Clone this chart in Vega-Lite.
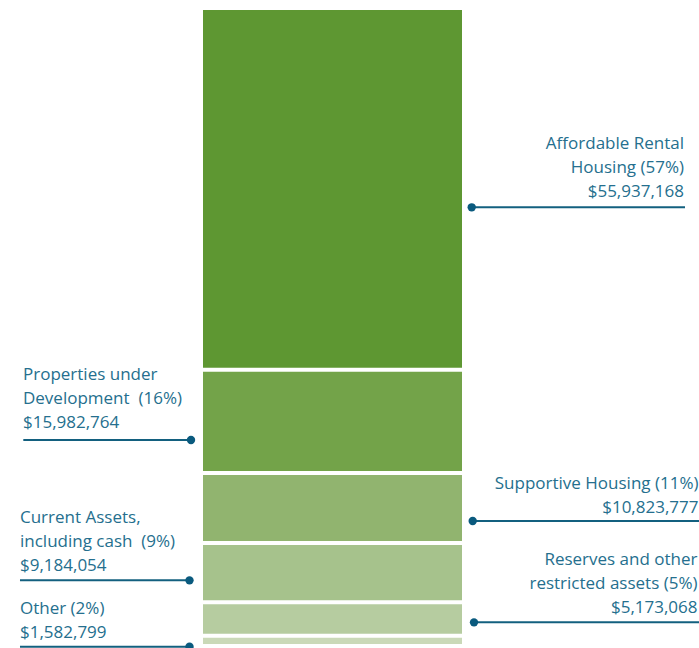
{
  "$schema": "https://vega.github.io/schema/vega-lite/v6.json",
  "width": 699,
  "height": 638,
  "autosize": "none",
  "padding": {"top": 8, "left": 0, "right": 0, "bottom": 2},
  "background": "white",
  "config": {"view": {"stroke": null}},
  "data": {
    "values": [
      {"category": "Affordable Rental Housing", "rank": 1, "value": 55937168, "label": "Affordable Rental\nHousing (57%)\n$55,937,168"},
      {"category": "Properties under Development", "rank": 2, "value": 15982764, "label": "Properties under\nDevelopment\u00a0 (16%)\n$15,982,764"},
      {"category": "Supportive Housing", "rank": 3, "value": 10823777, "label": "Supportive Housing (11%)\n$10,823,777"},
      {"category": "Current Assets, including cash", "rank": 4, "value": 9184054, "label": "Current Assets,\nincluding cash\u00a0 (9%)\n$9,184,054"},
      {"category": "Reserves and other restricted assets", "rank": 5, "value": 5173068, "label": "Reserves and other\nrestricted assets (5%)\n$5,173,068"},
      {"category": "Other", "rank": 6, "value": 1582799, "label": "Other (2%)\n$1,582,799"}
    ]
  },
  "transform": [
    {"stack": "value", "groupby": [], "sort": [{"field": "rank", "order": "ascending"}], "as": ["y0", "y1"]},
    {"calculate": "(datum.y0 + datum.y1) / 2", "as": "mid"}
  ],
  "layer": [
    {
      "mark": {"type": "bar", "yOffset": 2, "y2Offset": -2, "clip": false},
      "encoding": {
        "x": {"datum": 0, "type": "quantitative", "scale": {"domain": [-0.78378, 1.91506], "nice": false, "zero": false}, "axis": null},
        "x2": {"datum": 1},
        "y": {"field": "y0", "type": "quantitative", "scale": {"domain": [0, 98683630], "reverse": true, "nice": false, "zero": false}, "axis": null},
        "y2": {"field": "y1"},
        "color": {
          "field": "category",
          "type": "nominal",
          "scale": {
            "domain": ["Affordable Rental Housing", "Properties under Development", "Supportive Housing", "Current Assets, including cash", "Reserves and other restricted assets", "Other"],
            "range": ["#5E9732", "#73A349", "#91B46F", "#A6C28C", "#B6CCA0", "#CAD9B8"]
          },
          "legend": null
        }
      }
    },
    {
      "transform": [{"filter": "datum.rank == 1"}],
      "encoding": {"y": {"field": "mid", "type": "quantitative"}},
      "layer": [
        {"mark": {"type": "rule", "yOffset": 18.5, "strokeWidth": 2, "color": "#13607F", "clip": false},
         "encoding": {"x": {"datum": 1.0375, "type": "quantitative"}, "x2": {"datum": 1.861}}},
        {"mark": {"type": "point", "shape": "circle", "filled": true, "size": 70, "opacity": 1, "yOffset": 18.5, "color": "#0A5A7E", "clip": false},
         "encoding": {"x": {"datum": 1.0375, "type": "quantitative"}}},
        {"mark": {"type": "text", "align": "right", "baseline": "bottom", "lineBreak": "\n", "font": "Open Sans", "fontSize": 17, "lineHeight": 23.7, "color": "#256F8E", "yOffset": -35.5, "clip": false},
         "encoding": {"x": {"datum": 1.8571, "type": "quantitative"}, "text": {"field": "label"}}}
      ]
    },
    {
      "transform": [{"filter": "datum.rank == 2"}],
      "encoding": {"y": {"field": "mid", "type": "quantitative"}},
      "layer": [
        {"mark": {"type": "rule", "yOffset": 18.7, "strokeWidth": 2, "color": "#13607F", "clip": false},
         "encoding": {"x": {"datum": -0.6938, "type": "quantitative"}, "x2": {"datum": -0.0463}}},
        {"mark": {"type": "point", "shape": "circle", "filled": true, "size": 70, "opacity": 1, "yOffset": 18.7, "color": "#0A5A7E", "clip": false},
         "encoding": {"x": {"datum": -0.0463, "type": "quantitative"}}},
        {"mark": {"type": "text", "align": "left", "baseline": "bottom", "lineBreak": "\n", "font": "Open Sans", "fontSize": 17, "lineHeight": 24, "color": "#256F8E", "yOffset": -37, "clip": false},
         "encoding": {"x": {"datum": -0.6950, "type": "quantitative"}, "text": {"field": "label"}}}
      ]
    },
    {
      "transform": [{"filter": "datum.rank == 3"}],
      "encoding": {"y": {"field": "mid", "type": "quantitative"}},
      "layer": [
        {"mark": {"type": "rule", "yOffset": 13, "strokeWidth": 2, "color": "#13607F", "clip": false},
         "encoding": {"x": {"datum": 1.0413, "type": "quantitative"}, "x2": {"datum": 1.91506}}},
        {"mark": {"type": "point", "shape": "circle", "filled": true, "size": 70, "opacity": 1, "yOffset": 13, "color": "#0A5A7E", "clip": false},
         "encoding": {"x": {"datum": 1.0413, "type": "quantitative"}}},
        {"mark": {"type": "text", "align": "right", "baseline": "bottom", "lineBreak": "\n", "font": "Open Sans", "fontSize": 17, "lineHeight": 24, "color": "#256F8E", "yOffset": -14.7, "clip": false},
         "encoding": {"x": {"datum": 1.9131, "type": "quantitative"}, "text": {"field": "label"}}}
      ]
    },
    {
      "transform": [{"filter": "datum.rank == 4"}],
      "encoding": {"y": {"field": "mid", "type": "quantitative"}},
      "layer": [
        {"mark": {"type": "rule", "yOffset": 7.7, "strokeWidth": 2, "color": "#13607F", "clip": false},
         "encoding": {"x": {"datum": -0.7066, "type": "quantitative"}, "x2": {"datum": -0.0521}}},
        {"mark": {"type": "point", "shape": "circle", "filled": true, "size": 70, "opacity": 1, "yOffset": 7.7, "color": "#0A5A7E", "clip": false},
         "encoding": {"x": {"datum": -0.0521, "type": "quantitative"}}},
        {"mark": {"type": "text", "align": "left", "baseline": "bottom", "lineBreak": "\n", "font": "Open Sans", "fontSize": 17, "lineHeight": 24, "color": "#256F8E", "yOffset": -45.6, "clip": false},
         "encoding": {"x": {"datum": -0.7066, "type": "quantitative"}, "text": {"field": "label"}}}
      ]
    },
    {
      "transform": [{"filter": "datum.rank == 5"}],
      "encoding": {"y": {"field": "mid", "type": "quantitative"}},
      "layer": [
        {"mark": {"type": "rule", "yOffset": 3.3, "strokeWidth": 2, "color": "#13607F", "clip": false},
         "encoding": {"x": {"datum": 1.0463, "type": "quantitative"}, "x2": {"datum": 1.91506}}},
        {"mark": {"type": "point", "shape": "circle", "filled": true, "size": 70, "opacity": 1, "yOffset": 3.3, "color": "#0A5A7E", "clip": false},
         "encoding": {"x": {"datum": 1.0463, "type": "quantitative"}}},
        {"mark": {"type": "text", "align": "right", "baseline": "bottom", "lineBreak": "\n", "font": "Open Sans", "fontSize": 17, "lineHeight": 24, "color": "#256F8E", "yOffset": -50.3, "clip": false},
         "encoding": {"x": {"datum": 1.9093, "type": "quantitative"}, "text": {"field": "label"}}}
      ]
    },
    {
      "transform": [{"filter": "datum.rank == 6"}],
      "encoding": {"y": {"field": "mid", "type": "quantitative"}},
      "layer": [
        {"mark": {"type": "rule", "yOffset": 5.8, "strokeWidth": 2, "color": "#13607F", "clip": false},
         "encoding": {"x": {"datum": -0.7066, "type": "quantitative"}, "x2": {"datum": -0.0521}}},
        {"mark": {"type": "point", "shape": "circle", "filled": true, "size": 70, "opacity": 1, "yOffset": 5.8, "color": "#0A5A7E", "clip": false},
         "encoding": {"x": {"datum": -0.0521, "type": "quantitative"}}},
        {"mark": {"type": "text", "align": "left", "baseline": "bottom", "lineBreak": "\n", "font": "Open Sans", "fontSize": 17, "lineHeight": 24, "color": "#256F8E", "yOffset": -23.2, "clip": false},
         "encoding": {"x": {"datum": -0.7066, "type": "quantitative"}, "text": {"field": "label"}}}
      ]
    }
  ]
}
